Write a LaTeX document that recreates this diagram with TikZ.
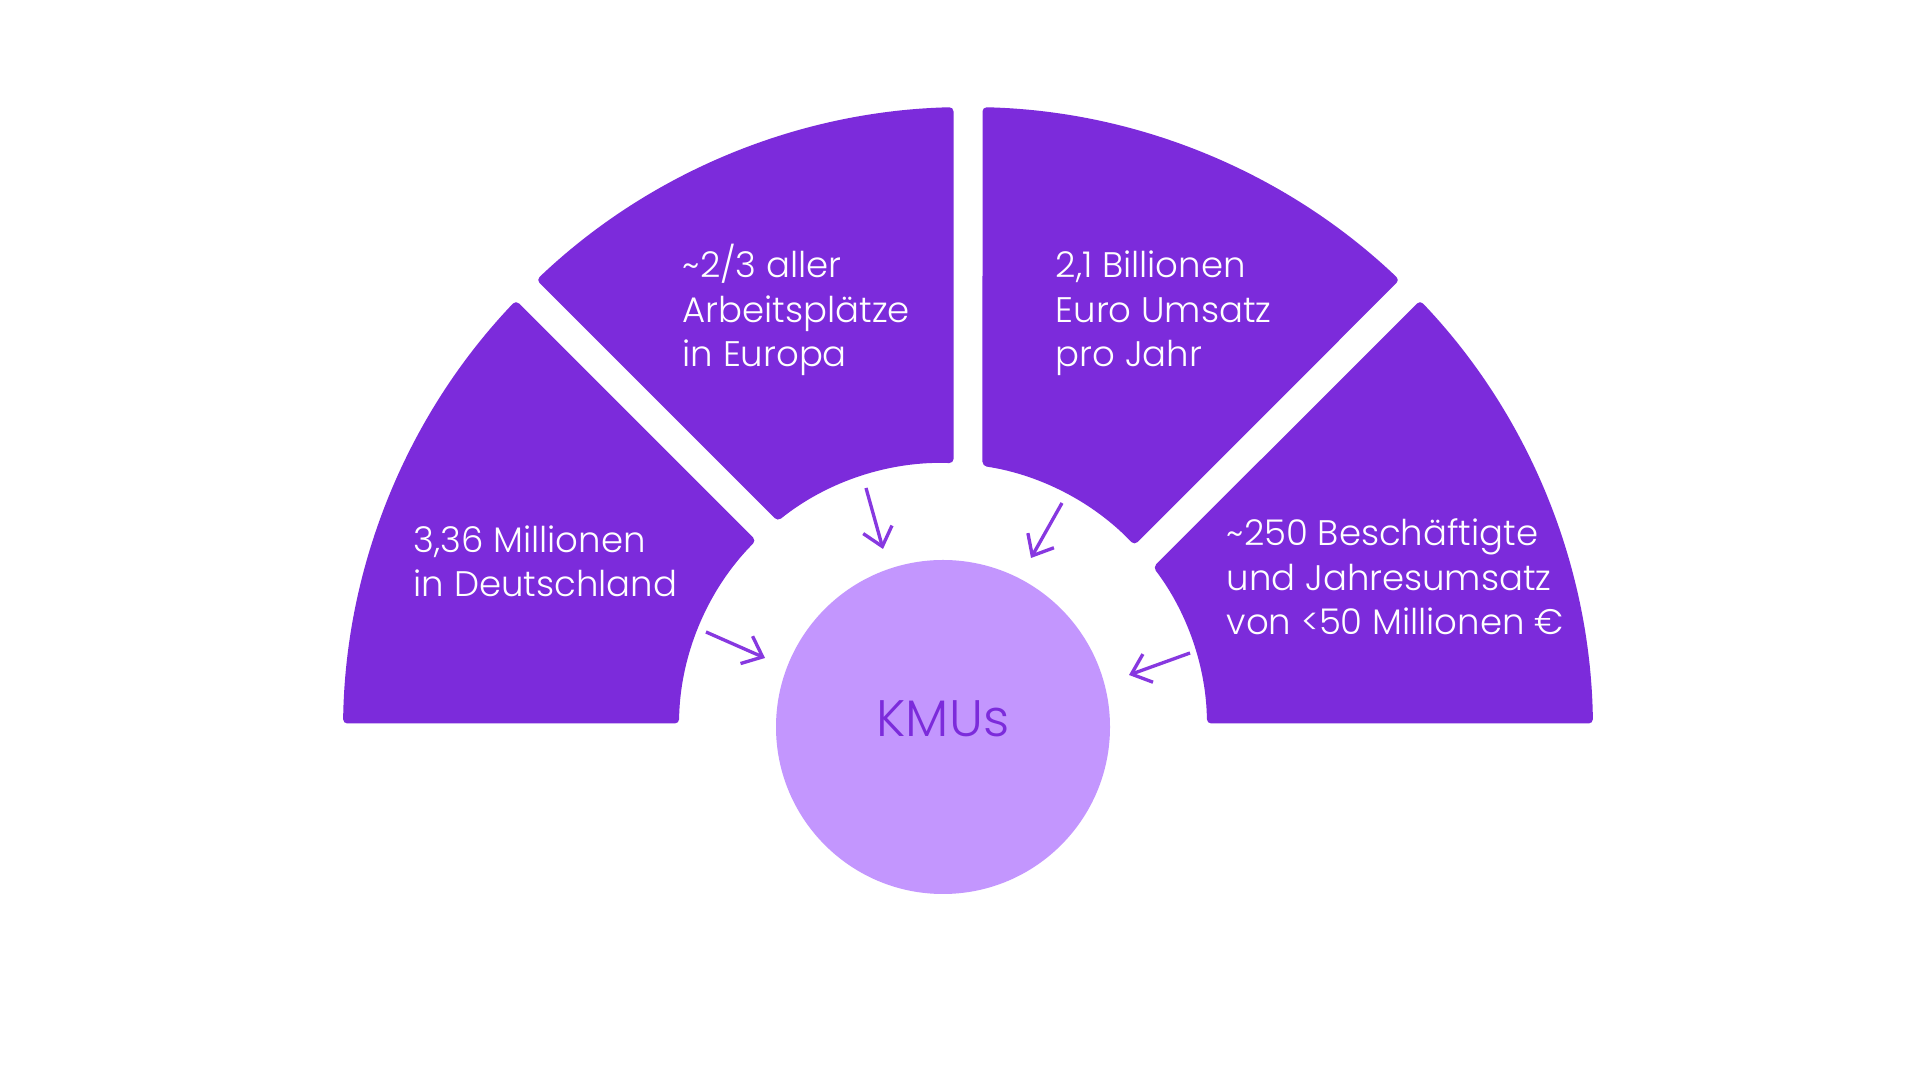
\documentclass[tikz,border=0pt]{standalone}
\usepackage{fontspec}
\setmainfont{Poppins}[UprightFont=* Light]
\usepackage{xcolor}
\usetikzlibrary{arrows.meta}

\definecolor{fanpurple}{HTML}{7C2BDB}
\definecolor{hublilac}{HTML}{C396FE}
\definecolor{arrowpurple}{HTML}{8738E0}

\tikzset{
    sector/.style = {fill = fanpurple, rounded corners = 1.2pt},
    fact/.style = {anchor = base west, inner sep = 0pt, align = left, text = white,
        font = \fontsize{10.1}{12.7}\selectfont},
    hubdisc/.style = {circle, fill = hublilac, minimum size = 3.34cm, inner sep = 0pt},
    hubtext/.style = {anchor = base, inner sep = 0pt, text = fanpurple,
        font = \fontsize{14.6}{17}\selectfont},
    pointer/.style = {draw = arrowpurple, line width = 0.95pt,
        -{Straight Barb[length = 5pt, width = 8.5pt]}}
}

\begin{document}
\begin{tikzpicture}
    \fill[white] (0,0) rectangle (19.2,10.8);
    \useasboundingbox (0,0) rectangle (19.2,10.8);

    \coordinate (fan) at (9.68,3.48);
    \coordinate (hub) at (9.43,3.53);

    % fan of four sectors
    \fill[sector] ([shift={(179.22:6.25)}]fan) arc[start angle = 179.22, end angle = 136.33, radius = 6.25]
        -- ([shift={(135.08:2.64)}]hub) arc[start angle = 135.08, end angle = 179.24, radius = 2.64] -- cycle;
    \fill[sector] ([shift={(133.67:6.25)}]fan) arc[start angle = 133.67, end angle = 91.33, radius = 6.25]
        -- ([shift={(87.72:2.64)}]hub) arc[start angle = 87.72, end angle = 128.77, radius = 2.64] -- cycle;
    \fill[sector] ([shift={(88.67:6.25)}]fan) arc[start angle = 88.67, end angle = 46.33, radius = 6.25]
        -- ([shift={(43.54:2.64)}]hub) arc[start angle = 43.54, end angle = 81.40, radius = 2.64] -- cycle;
    \fill[sector] ([shift={(43.67:6.25)}]fan) arc[start angle = 43.67, end angle = 0.78, radius = 6.25]
        -- ([shift={(0.76:2.64)}]hub) arc[start angle = 0.76, end angle = 37.23, radius = 2.64] -- cycle;

    % base of each text is its last line
    \node[fact] (millionen) at (4.13,4.83) {3,36 Millionen\\in Deutschland};
    \node[fact] (arbeit) at (6.82,7.13) {\textasciitilde2/3 aller\\Arbeitsplätze\\in Europa};
    \node[fact] (umsatz) at (10.55,7.13) {2,1 Billionen\\Euro Umsatz\\pro Jahr};
    \node[fact] (groesse) at (12.26,4.45) {\textasciitilde250 Beschäftigte\\und Jahresumsatz\\von <50 Millionen €};

    % centre
    \node[hubdisc] (kmu) at (hub) {};
    \node[hubtext] (kmulabel) at ([yshift=-0.1cm]kmu.center) {KMUs};

    \coordinate (tailA) at (7.06,4.48);  \coordinate (tipA) at (7.65,4.22);
    \coordinate (tailB) at (8.66,5.92);  \coordinate (tipB) at (8.83,5.31);
    \coordinate (tailC) at (10.62,5.77); \coordinate (tipC) at (10.31,5.22);
    \coordinate (tailD) at (11.90,4.27); \coordinate (tipD) at (11.29,4.05);

    \draw[pointer] (tailA) -- (tipA);
    \draw[pointer] (tailB) -- (tipB);
    \draw[pointer] (tailC) -- (tipC);
    \draw[pointer] (tailD) -- (tipD);
\end{tikzpicture}
\end{document}
